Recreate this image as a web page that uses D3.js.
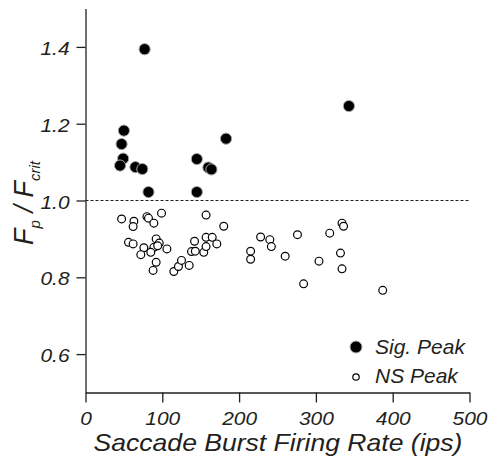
<!DOCTYPE html>
<html>
<head>
<meta charset="utf-8">
<script src="https://cdn.jsdelivr.net/npm/d3@7/dist/d3.min.js"></script>
<style>
  html, body { margin: 0; padding: 0; background: #fff; }
  svg { display: block; }
  text { font-family: "Liberation Sans", Arial, Helvetica, sans-serif; font-style: italic; fill: #231f20; }
</style>
</head>
<body>
<svg id="chart" width="490" height="460"></svg>
<script>
// Significant-peak units: burst firing rate (ips) and Fp/Fcrit
const sigX = [77, 50, 47, 49, 45, 65, 74, 82, 145, 160, 164, 145, 183, 343];
const sigY = [1.394, 1.182, 1.147, 1.109, 1.091, 1.087, 1.082, 1.022, 1.108, 1.086, 1.081, 1.022, 1.161, 1.246];

// Non-significant-peak units
const nsX = [47, 63, 62, 80, 82, 89, 99, 157, 180, 56, 62, 92, 96, 89, 94, 85, 76, 72, 106, 92, 88,
             115, 121, 125, 135, 138, 143, 142, 154, 157, 157, 165, 171, 215, 215, 228, 240, 242,
             260, 276, 284, 304, 318, 334, 336, 332, 334, 387];
const nsY = [0.952, 0.946, 0.932, 0.958, 0.954, 0.941, 0.967, 0.962, 0.933, 0.891, 0.887, 0.900, 0.889,
             0.878, 0.882, 0.865, 0.877, 0.859, 0.874, 0.839, 0.818, 0.815, 0.828, 0.844, 0.831, 0.867,
             0.868, 0.894, 0.865, 0.880, 0.904, 0.904, 0.887, 0.868, 0.847, 0.905, 0.898, 0.880, 0.855,
             0.911, 0.783, 0.842, 0.915, 0.941, 0.933, 0.863, 0.822, 0.766];

const xTicks = [0, 100, 200, 300, 400, 500];
const yTicks = [0.6, 0.8, 1.0, 1.2, 1.4];
const threshold = 1.0;
const legendLabels = ["Sig. Peak", "NS Peak"];

const svg = d3.select("#chart");
const x = d3.scaleLinear().domain([0, 500]).range([85.5, 469.5]);
const y = d3.scaleLinear().domain([0.5, 1.5]).range([392.5, 8.5]);

// slightly widened lettering used for the axis labels
const wide = 1.1;

// x axis
const gx = svg.append("g").attr("transform", `translate(0,${y(0.5)})`)
  .call(d3.axisBottom(x).tickValues(xTicks).tickSize(10).tickSizeOuter(0).tickPadding(9.5)
    .tickFormat(d3.format("d")));
gx.selectAll("text").style("font-size", "19px").attr("fill", null)
  .attr("transform", `scale(${wide},1)`);

// y axis
const gy = svg.append("g").attr("transform", `translate(${x(0)},0)`)
  .call(d3.axisLeft(y).tickValues(yTicks).tickSize(9).tickSizeOuter(0).tickPadding(5.5)
    .tickFormat(d3.format(".1f")));
gy.selectAll("text").style("font-size", "19px").attr("fill", null)
  .attr("dy", "0.4em")
  .attr("transform", `scale(${wide},1)`);

svg.selectAll(".domain, .tick line").attr("stroke", "#231f20").attr("stroke-width", 1.3);

// significance criterion line
svg.append("line")
  .attr("x1", x(0)).attr("x2", x(500))
  .attr("y1", y(threshold)).attr("y2", y(threshold))
  .attr("stroke", "#231f20").attr("stroke-width", 1.2).attr("stroke-dasharray", "3,2");

// non-significant points
svg.append("g").selectAll("circle")
  .data(nsX.map((v, i) => [v, nsY[i]]))
  .join("circle")
  .attr("cx", d => x(d[0])).attr("cy", d => y(d[1])).attr("r", 3.9)
  .attr("fill", "#fff").attr("stroke", "#000").attr("stroke-width", 1.2);

// significant points
svg.append("g").selectAll("circle")
  .data(sigX.map((v, i) => [v, sigY[i]]))
  .join("circle")
  .attr("cx", d => x(d[0])).attr("cy", d => y(d[1])).attr("r", 5.6)
  .attr("fill", "#000").attr("stroke", "#aaa").attr("stroke-width", 1);

// axis titles
svg.append("text")
  .attr("transform", `translate(${(x(0) + x(500)) / 2 + 0.5},451) scale(1.155,1)`)
  .attr("text-anchor", "middle")
  .style("font-size", "23px")
  .text("Saccade Burst Firing Rate (ips)");

const yl = svg.append("text")
  .attr("transform", "translate(33,203) rotate(-90)")
  .attr("text-anchor", "middle")
  .style("font-size", "27px");
yl.append("tspan").text("F");
yl.append("tspan").attr("dy", 7).style("font-size", "15px").text("p");
yl.append("tspan").attr("dy", -7).text(" / F");
yl.append("tspan").attr("dy", 7).style("font-size", "15px").text("crit");

// legend
const lg = svg.append("g");
lg.append("circle").attr("cx", 356).attr("cy", 347).attr("r", 6)
  .attr("fill", "#000").attr("stroke", "#aaa").attr("stroke-width", 1);
lg.append("circle").attr("cx", 356).attr("cy", 377).attr("r", 3.2)
  .attr("fill", "#fff").attr("stroke", "#000").attr("stroke-width", 1.2);
lg.append("text").attr("x", 375).attr("y", 354).style("font-size", "21px").text(legendLabels[0]);
lg.append("text").attr("x", 375).attr("y", 383).style("font-size", "21px").text(legendLabels[1]);
</script>
</body>
</html>
